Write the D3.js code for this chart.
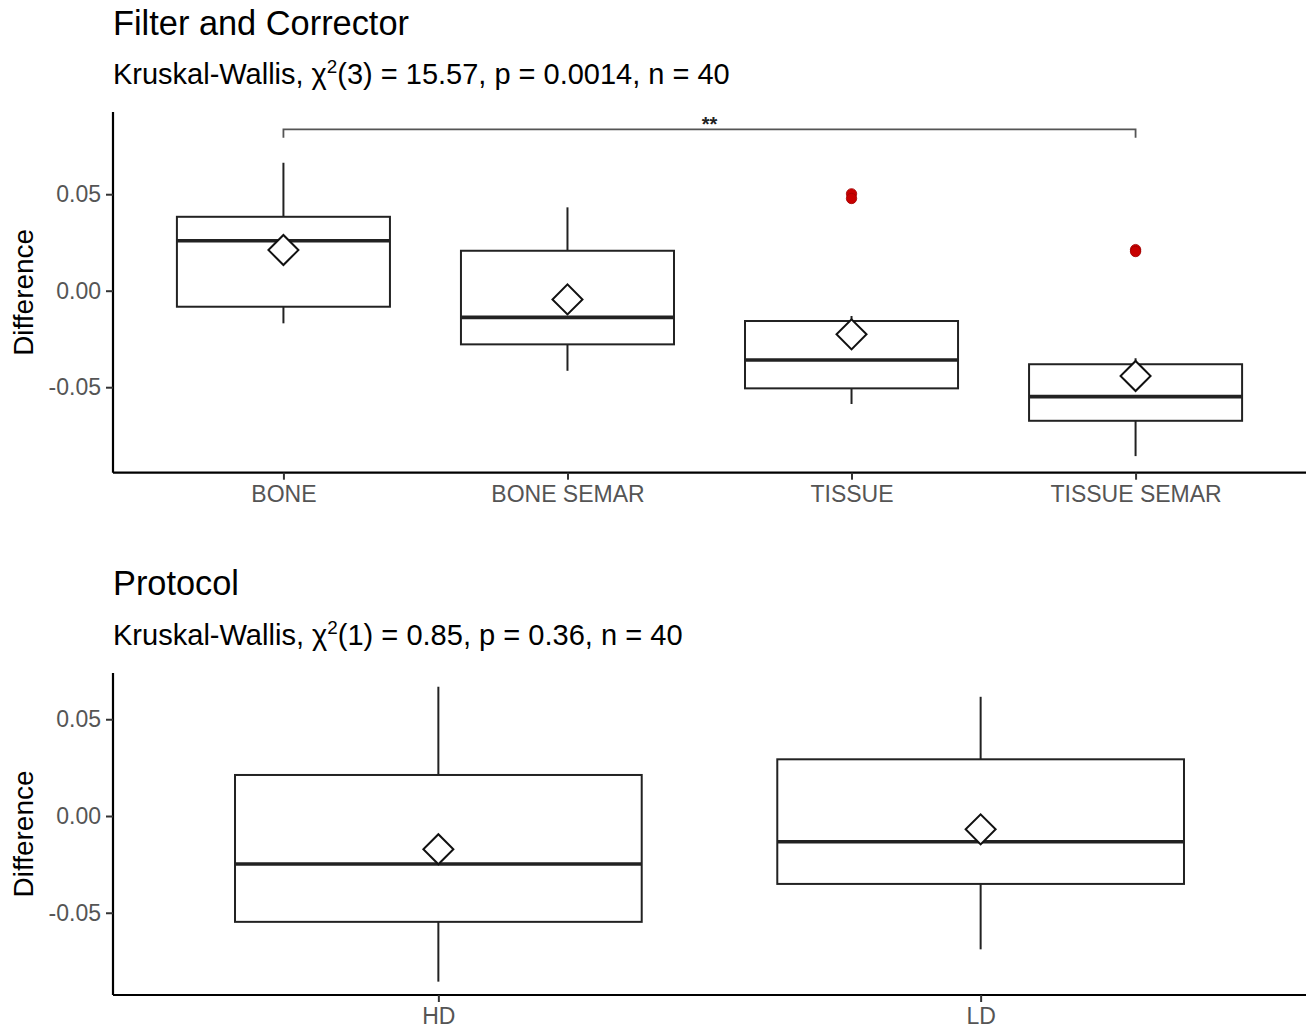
<!DOCTYPE html>
<html>
<head>
<meta charset="utf-8">
<script src="https://cdn.jsdelivr.net/npm/d3@7"></script>
<style>
  html, body { margin: 0; padding: 0; background: #fff; }
  svg { display: block; font-family: "Liberation Sans", Arial, Helvetica, sans-serif; }
</style>
</head>
<body>
<svg id="chart" width="1307" height="1030"></svg>
<script>
// ---------- DATA ----------
const fcGroups = ["BONE", "BONE SEMAR", "TISSUE", "TISSUE SEMAR"];
const fcLowerWhisker = [-0.0169, -0.0415, -0.0587, -0.0857];
const fcQ1 = [-0.0083, -0.0278, -0.0506, -0.0674];
const fcMedian = [0.0259, -0.0138, -0.0359, -0.0549];
const fcQ3 = [0.0383, 0.0207, -0.0157, -0.0381];
const fcUpperWhisker = [0.0663, 0.0432, -0.0131, -0.0350];
const fcMean = [0.0211, -0.0045, -0.0226, -0.0442];
const fcOutliers = [[], [], [0.0502, 0.0478], [0.0213, 0.0203]];
const fcComparison = ["BONE", "TISSUE SEMAR"];
const fcComparisonY = 0.0836;
const fcComparisonTip = 0.0793;
const fcComparisonLabel = "**";

const protoGroups = ["HD", "LD"];
const protoLowerWhisker = [-0.0856, -0.0689];
const protoQ1 = [-0.0547, -0.0351];
const protoMedian = [-0.0248, -0.0133];
const protoQ3 = [0.0212, 0.0293];
const protoUpperWhisker = [0.0668, 0.0616];
const protoMean = [-0.0172, -0.0069];

const yTicks = [-0.05, 0, 0.05];

const fcTitle = "Filter and Corrector";
const fcSub = ["Kruskal-Wallis, \u03C7", "2", "(3) = 15.57, p = 0.0014, n = 40"];
const protoTitle = "Protocol";
const protoSub = ["Kruskal-Wallis, \u03C7", "2", "(1) = 0.85, p = 0.36, n = 40"];
const yLabel = "Difference";

// ---------- DRAW ----------
const svg = d3.select("#chart");
const fmt = d => d3.format(".2f")(d).replace("\u2212", "-");

function fitWidth(sel, target) {
  const w = sel.node().getComputedTextLength();
  const fs = parseFloat(sel.attr("font-size"));
  sel.attr("font-size", fs * target / w);
}

function panel(cfg) {
  const g = svg.append("g");
  const x = d3.scalePoint().domain(cfg.groups).range([cfg.left, cfg.right]).padding(0.6);
  const y = d3.scaleLinear().domain(cfg.yDomain).range([cfg.bottom, cfg.top]);
  const bw = x.step() * 0.75;

  // title
  const t = g.append("text").attr("x", cfg.left).attr("y", cfg.titleY)
    .attr("font-size", 30).attr("fill", "#000").text(cfg.title);
  fitWidth(t, cfg.titleW);

  // subtitle
  const s = g.append("text").attr("x", cfg.left).attr("y", cfg.subY)
    .attr("font-size", 25).attr("fill", "#000");
  s.append("tspan").text(cfg.sub[0]);
  s.append("tspan").attr("dy", -11).attr("font-size", "0.65em").text(cfg.sub[1]);
  s.append("tspan").attr("dy", 11).text(cfg.sub[2]);
  fitWidth(s, cfg.subW);

  // y axis
  const ya = g.append("g").attr("transform", `translate(${cfg.left},0)`)
    .call(d3.axisLeft(y).tickValues(yTicks).tickFormat(fmt).tickSizeOuter(0).tickSize(7).tickPadding(5));
  ya.select(".domain").attr("stroke", "#000").attr("stroke-width", 2.2)
    .attr("d", `M0,${cfg.top}V${cfg.bottom}`);
  ya.selectAll(".tick line").attr("stroke", "#333").attr("stroke-width", 2);
  ya.selectAll(".tick text").attr("font-size", 23).attr("fill", "#555")
    .attr("font-family", "Liberation Sans, Arial, sans-serif");

  // x axis
  const xa = g.append("g").attr("transform", `translate(0,${cfg.bottom})`)
    .call(d3.axisBottom(x).tickSizeOuter(0).tickSize(7).tickPadding(6));
  xa.select(".domain").attr("stroke", "#000").attr("stroke-width", 2.2)
    .attr("d", `M${cfg.left},0H${cfg.right}`);
  xa.selectAll(".tick line").attr("stroke", "#333").attr("stroke-width", 2);
  xa.selectAll(".tick text").attr("font-size", 23).attr("fill", "#555")
    .attr("font-family", "Liberation Sans, Arial, sans-serif");

  // y label
  const yl = g.append("text")
    .attr("transform", `translate(${cfg.yLabelX},${(cfg.top + cfg.bottom) / 2}) rotate(-90)`)
    .attr("text-anchor", "middle").attr("font-size", 26).attr("fill", "#000").text(yLabel);
  fitWidth(yl, 127);

  const data = cfg.groups.map((k, i) => ({
    k, lo: cfg.lo[i], q1: cfg.q1[i], med: cfg.med[i], q3: cfg.q3[i], hi: cfg.hi[i],
    mean: cfg.mean[i], out: cfg.out ? cfg.out[i] : []
  }));

  const b = g.selectAll(".box").data(data).enter().append("g");
  // whiskers
  b.append("line").attr("x1", d => x(d.k)).attr("x2", d => x(d.k))
    .attr("y1", d => y(d.q3)).attr("y2", d => y(d.hi))
    .attr("stroke", "#222").attr("stroke-width", 2);
  b.append("line").attr("x1", d => x(d.k)).attr("x2", d => x(d.k))
    .attr("y1", d => y(d.q1)).attr("y2", d => y(d.lo))
    .attr("stroke", "#222").attr("stroke-width", 2);
  // box
  b.append("rect").attr("x", d => x(d.k) - bw / 2).attr("width", bw)
    .attr("y", d => y(d.q3)).attr("height", d => y(d.q1) - y(d.q3))
    .attr("fill", "#fff").attr("stroke", "#222").attr("stroke-width", 2);
  // median
  b.append("line").attr("x1", d => x(d.k) - bw / 2).attr("x2", d => x(d.k) + bw / 2)
    .attr("y1", d => y(d.med)).attr("y2", d => y(d.med))
    .attr("stroke", "#222").attr("stroke-width", 3.6);
  // outliers
  b.selectAll(".out").data(d => d.out.map(v => ({ k: d.k, v }))).enter().append("circle")
    .attr("cx", d => x(d.k)).attr("cy", d => y(d.v)).attr("r", 5.2)
    .attr("fill", "#c80000").attr("stroke", "#a00000").attr("stroke-width", 0.8);
  // mean diamond
  const diamond = d3.symbol().type(d3.symbolSquare).size(450);
  b.append("path").attr("d", diamond)
    .attr("transform", d => `translate(${x(d.k)},${y(d.mean)}) rotate(45)`)
    .attr("fill", "#fff").attr("stroke", "#111").attr("stroke-width", 2);

  // comparison bracket
  if (cfg.comp) {
    const x1 = x(cfg.comp[0]), x2 = x(cfg.comp[1]);
    g.append("path")
      .attr("d", `M${x1},${y(cfg.compTip)}V${y(cfg.compY)}H${x2}V${y(cfg.compTip)}`)
      .attr("fill", "none").attr("stroke", "#555").attr("stroke-width", 1.8);
    g.append("text").attr("x", (x1 + x2) / 2).attr("y", y(cfg.compY) + 2)
      .attr("text-anchor", "middle").attr("font-size", 20).attr("font-weight", "bold")
      .attr("fill", "#222").text(cfg.compLabel);
  }
}

panel({
  groups: fcGroups, left: 113, right: 1306, top: 112, bottom: 472.7,
  yDomain: [-0.0943, 0.0926],
  title: fcTitle, titleY: 35, titleW: 296,
  sub: fcSub, subY: 83.5, subW: 617,
  yLabelX: 33,
  lo: fcLowerWhisker, q1: fcQ1, med: fcMedian, q3: fcQ3, hi: fcUpperWhisker,
  mean: fcMean, out: fcOutliers,
  comp: fcComparison, compY: fcComparisonY, compTip: fcComparisonTip, compLabel: fcComparisonLabel
});

panel({
  groups: protoGroups, left: 113, right: 1306, top: 673, bottom: 995,
  yDomain: [-0.0925, 0.0739],
  title: protoTitle, titleY: 595, titleW: 126,
  sub: protoSub, subY: 645, subW: 570,
  yLabelX: 33,
  lo: protoLowerWhisker, q1: protoQ1, med: protoMedian, q3: protoQ3, hi: protoUpperWhisker,
  mean: protoMean
});
</script>
</body>
</html>
